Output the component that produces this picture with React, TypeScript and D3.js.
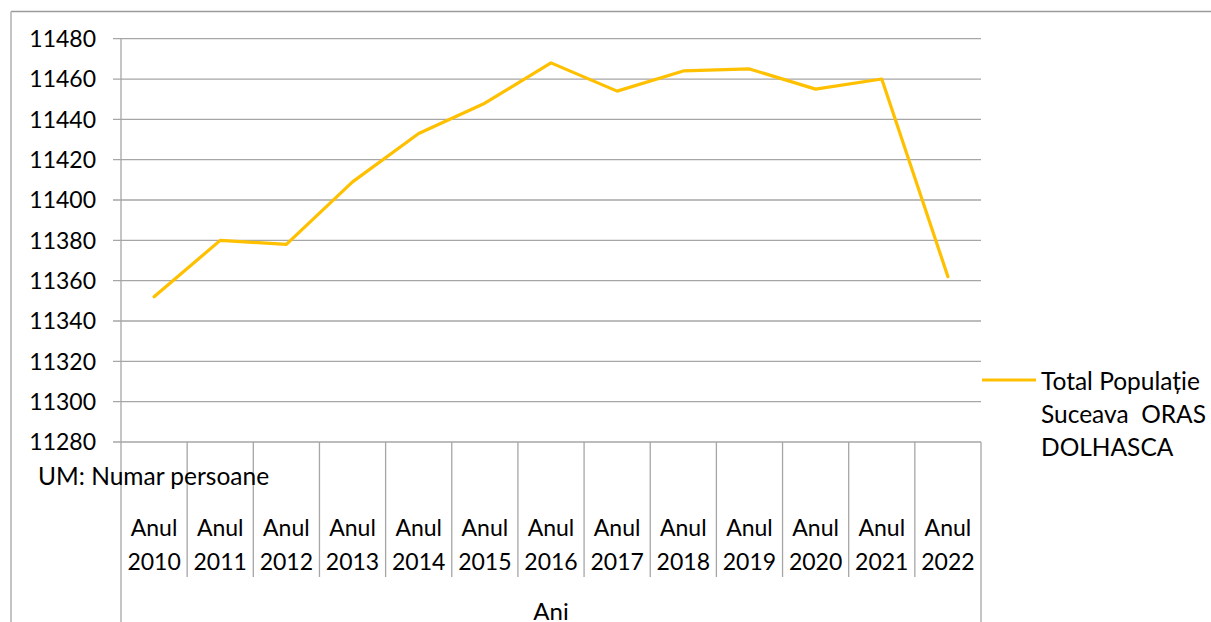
import React from "react";
import * as d3 from "d3";

const categories = ["Anul 2010","Anul 2011","Anul 2012","Anul 2013","Anul 2014","Anul 2015","Anul 2016","Anul 2017","Anul 2018","Anul 2019","Anul 2020","Anul 2021","Anul 2022"];
const values = [11352, 11380, 11378, 11409, 11433, 11448, 11468, 11454, 11464, 11465, 11455, 11460, 11362];
const yTicks = [11280,11300,11320,11340,11360,11380,11400,11420,11440,11460,11480];
const legendLines = ["Total Populație", "Suceava  ORAS", "DOLHASCA"];
const unitLabel = "UM: Numar persoane";
const axisTitle = "Ani";

const W = 1211, H = 622;
const left = 121, right = 981, top = 38.7, bottom = 442;
const FONT = "Lato, 'Open Sans', sans-serif";

export default function App() {
  const x = d3.scaleBand().domain(categories).range([left, right]).padding(0);
  const y = d3.scaleLinear().domain([11280, 11480]).range([bottom, top]);
  const line = d3.line<number>()
    .x((_, i) => (x(categories[i]) as number) + x.bandwidth() / 2)
    .y(d => y(d));
  const grid = "#a6a6a6";
  return (
    <svg width={W} height={H} style={{ position: "absolute", left: 0, top: 0, background: "#fff" }} fontFamily={FONT}>
      <rect x={0} y={0} width={W} height={H} fill="#fff" />
      <line x1={11} y1={11.5} x2={W} y2={11.5} stroke="#9a9a9a" strokeWidth={1.5} />
      <line x1={11} y1={11.5} x2={11} y2={H} stroke="#b0b0b0" strokeWidth={1.5} />
      {yTicks.map(t => (
        <g key={t}>
          <line x1={113} x2={right} y1={y(t)} y2={y(t)} stroke={grid} strokeWidth={1.3} />
          <text x={96} y={y(t)} dy="0.36em" textAnchor="end" fontSize={23} fill="#000">{t}</text>
        </g>
      ))}
      <line x1={left} x2={left} y1={top} y2={H} stroke={grid} strokeWidth={1.3} />
      <line x1={right} x2={right} y1={bottom} y2={H} stroke={grid} strokeWidth={1.3} />
      {categories.slice(1).map(c => (
        <line key={c} x1={x(c) as number} x2={x(c) as number} y1={bottom} y2={577} stroke={grid} strokeWidth={1.3} />
      ))}
      {categories.map(c => {
        const [a, b] = c.split(" ");
        const cx = (x(c) as number) + x.bandwidth() / 2;
        return (
          <g key={c}>
            <text x={cx} y={528} dy="0.36em" textAnchor="middle" fontSize={23} fill="#000">{a}</text>
            <text x={cx} y={562} dy="0.36em" textAnchor="middle" fontSize={23} fill="#000">{b}</text>
          </g>
        );
      })}
      <text x={38} y={476} dy="0.36em" fontSize={24.5} fill="#000">{unitLabel}</text>
      <text x={(left + right) / 2} y={611} dy="0.36em" textAnchor="middle" fontSize={24} fill="#000">{axisTitle}</text>
      <path d={line(values) || ""} fill="none" stroke="#FFC000" strokeWidth={3.2} strokeLinejoin="round" strokeLinecap="round" />
      <line x1={982} x2={1036} y1={380} y2={380} stroke="#FFC000" strokeWidth={3.2} />
      {legendLines.map((t, i) => (
        <text key={i} x={1041} y={381 + i * 33} dy="0.36em" fontSize={24.5} fill="#000" style={{ whiteSpace: "pre" }}>{t}</text>
      ))}
    </svg>
  );
}
